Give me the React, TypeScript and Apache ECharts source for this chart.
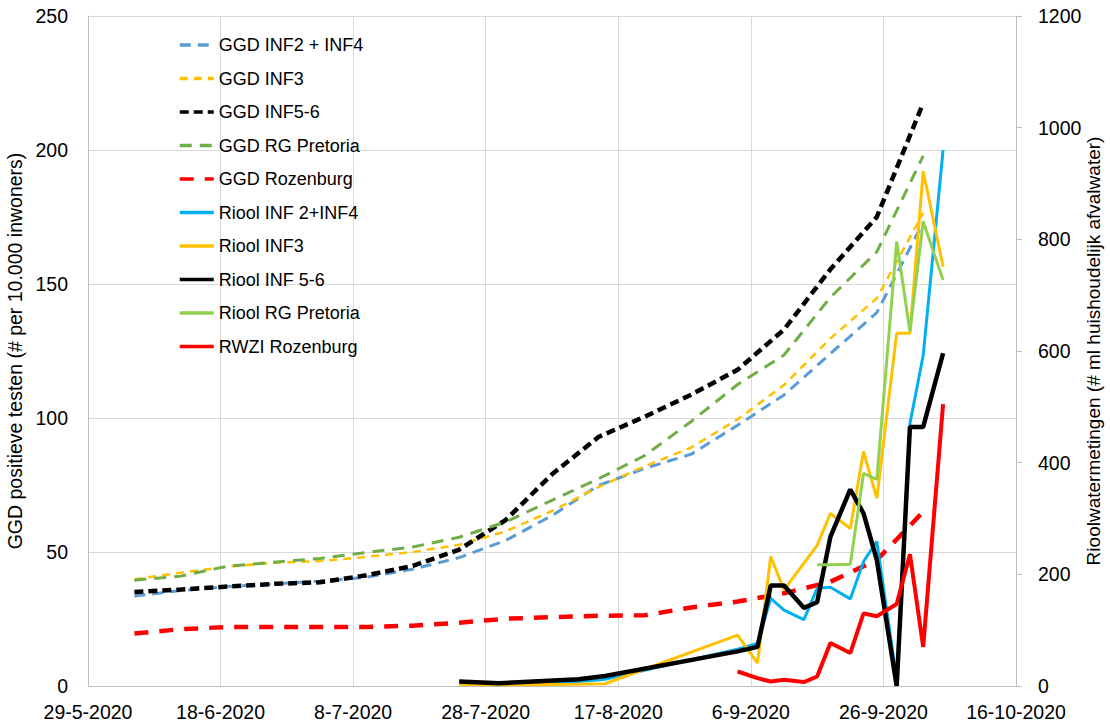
import React, { useEffect, useRef } from "react";
import * as echarts from "echarts";

// ---- data ----
const START = "2020-05-29";
const xTickDays = [0, 20, 40, 60, 80, 100, 120, 140];

const ggdDates = [
  "2020-06-05", "2020-06-12", "2020-06-19", "2020-06-26", "2020-07-03", "2020-07-10",
  "2020-07-17", "2020-07-24", "2020-07-31", "2020-08-07", "2020-08-14", "2020-08-21",
  "2020-08-28", "2020-09-04", "2020-09-11", "2020-09-18", "2020-09-25", "2020-10-02",
];
const ggdInf24 = [33.6, 35.6, 37.1, 38.1, 39.1, 40.6, 43.6, 47.9, 54.3, 63.6, 74.8, 81.2, 86.5, 97.3, 108.6, 124, 139.3, 173];
const ggdInf3 = [39.8, 42.3, 44.5, 46, 46.6, 48.2, 50, 52.7, 57.7, 65.3, 74.2, 82, 89, 99.5, 112.3, 129.7, 144.7, 176.5];
const ggdInf56 = [35.1, 36, 37.1, 38.1, 38.7, 41.3, 44.8, 50.9, 61.9, 79, 92.9, 100.5, 108.7, 118, 133, 155.5, 175, 217.5];
const ggdPretoria = [39.5, 41, 44.7, 46.2, 47.6, 49.8, 51.9, 55.5, 61.2, 69.3, 77.3, 86, 98.7, 112.5, 123.5, 145, 162, 197.8];
const ggdRozenburg = [19.6, 21.2, 22, 22, 22, 22, 22.5, 23.6, 25.1, 25.7, 26.2, 26.4, 29.3, 31.5, 34.6, 38.9, 47, 65];

const rioolDates = [
  "2020-07-24", "2020-07-30", "2020-08-11", "2020-08-15", "2020-09-04", "2020-09-07",
  "2020-09-09", "2020-09-11", "2020-09-14", "2020-09-16", "2020-09-18", "2020-09-21",
  "2020-09-23", "2020-09-25", "2020-09-28", "2020-09-30", "2020-10-02", "2020-10-05",
];
const rioolInf24 = [4, 2, 8, 12, 66, 76, 157, 136, 119, 175, 177, 156, 223, 259, 12, 470, 592, 960];
const rioolInf3 = [3, 2, 3, 4, 91, 41, 232, 172, null, 252, 309, 282, 420, 336, 632, 632, 922, 751];
const rioolInf56 = [8, 5, 12, 18, 62, 70, 180, 180, 140, 150, 267, 352, 309, 226, 0, 464, 464, 596];
const rioolPretoria = [null, null, null, null, null, null, null, null, null, 217, 217, 218, 381, 370, 796, 635, 832, 727];
const rwziRozenburg = [null, null, null, null, 26, 14, 8, 11, 7, 17, 77, 59, 130, 125, 147, 236, 70, 505];

const DAY = 86400000;
const toDay = (s: string) => Math.round((Date.parse(s) - Date.parse(START)) / DAY);
const dayLabel = (d: number) => {
  const t = new Date(Date.parse(START) + d * DAY);
  return `${t.getUTCDate()}-${t.getUTCMonth() + 1}-${t.getUTCFullYear()}`;
};
const pairs = (dates: string[], vals: (number | null)[]) =>
  dates.map((d, i) => [toDay(d), vals[i]]).filter((p) => p[1] !== null);

const FONT = "Liberation Sans";

export default function App() {
  const ref = useRef<HTMLDivElement>(null);
  useEffect(() => {
    if (!ref.current) return;
    const chart = echarts.init(ref.current, undefined, { renderer: "svg" });
    const dashed = (name: string, vals: number[], color: string, width: number, dash: number[]) => ({
      name,
      type: "line",
      yAxisIndex: 0,
      data: pairs(ggdDates, vals),
      symbol: "none",
      showSymbol: false,
      lineStyle: { color, width, type: dash },
      itemStyle: { color },
    });
    const solid = (name: string, dates: string[], vals: (number | null)[], color: string, width: number) => ({
      name,
      type: "line",
      yAxisIndex: 1,
      data: pairs(dates, vals),
      symbol: "none",
      showSymbol: false,
      lineStyle: { color, width, type: "solid" },
      itemStyle: { color },
    });
    chart.setOption({
      animation: false,
      backgroundColor: "#ffffff",
      textStyle: { fontFamily: FONT },
      grid: { left: 88, right: 94, top: 16, bottom: 40, containLabel: false, outerBoundsMode: "none" },
      legend: {
        orient: "vertical",
        left: 173,
        top: 31,
        itemWidth: 34,
        itemHeight: 14,
        itemGap: 15.5,
        itemStyle: { opacity: 0 },
        lineStyle: { width: 3.5 },
        textStyle: { fontSize: 18, color: "#000", fontFamily: FONT },
        data: [
          "GGD INF2 + INF4", "GGD INF3", "GGD INF5-6", "GGD RG Pretoria", "GGD Rozenburg",
          "Riool INF 2+INF4", "Riool INF3", "Riool INF 5-6", "Riool RG Pretoria", "RWZI Rozenburg",
        ],
      },
      xAxis: {
        type: "value",
        min: xTickDays[0],
        max: xTickDays[xTickDays.length - 1],
        interval: 20,
        axisLine: { show: true, lineStyle: { color: "#BFBFBF", width: 1 } },
        axisTick: { show: false },
        splitLine: { show: true, lineStyle: { color: "#D9D9D9", width: 1 } },
        axisLabel: { formatter: (v: number) => dayLabel(v), fontSize: 19.5, color: "#000", margin: 16, fontFamily: FONT },
      },
      yAxis: [
        {
          type: "value",
          min: 0,
          max: 250,
          interval: 50,
          name: "GGD positieve testen (# per 10.000 inwoners)",
          nameLocation: "middle",
          nameGap: 61,
          nameTextStyle: { fontSize: 19.5, color: "#000", fontFamily: FONT },
          axisLine: { show: true, lineStyle: { color: "#BFBFBF" } },
          axisTick: { show: false },
          splitLine: { show: true, lineStyle: { color: "#D9D9D9", width: 1 } },
          axisLabel: { fontSize: 19.5, color: "#000", margin: 20, fontFamily: FONT },
        },
        {
          type: "value",
          min: 0,
          max: 1200,
          interval: 200,
          position: "right",
          name: "Rioolwatermetingen (# ml huishoudelijk afvalwater)",
          nameLocation: "middle",
          nameGap: 68,
          nameMoveOverlap: false,
          nameRotate: 90,
          nameTextStyle: { fontSize: 19, color: "#000", fontFamily: FONT },
          axisLine: { show: true, lineStyle: { color: "#BFBFBF" } },
          axisTick: { show: true, length: 6, lineStyle: { color: "#BFBFBF" } },
          splitLine: { show: false },
          axisLabel: { fontSize: 19.5, color: "#000", margin: 22, fontFamily: FONT, formatter: (v: number) => String(v) },
        },
      ],
      series: [
        dashed("GGD INF2 + INF4", ggdInf24, "#5B9BD5", 3, [11, 7]),
        dashed("GGD INF3", ggdInf3, "#FFC000", 2.5, [8, 6]),
        dashed("GGD INF5-6", ggdInf56, "#000000", 4.5, [9, 5]),
        dashed("GGD RG Pretoria", ggdPretoria, "#70AD47", 3, [12, 8]),
        dashed("GGD Rozenburg", ggdRozenburg, "#FF0000", 4.5, [14, 11]),
        solid("Riool INF 2+INF4", rioolDates, rioolInf24, "#00B0F0", 3),
        solid("Riool INF3", rioolDates, rioolInf3, "#FFC000", 3),
        solid("Riool INF 5-6", rioolDates, rioolInf56, "#000000", 4.5),
        solid("Riool RG Pretoria", rioolDates, rioolPretoria, "#92D050", 3),
        solid("RWZI Rozenburg", rioolDates, rwziRozenburg, "#FF0000", 4),
      ],
    });
    return () => chart.dispose();
  }, []);
  return <div ref={ref} style={{ width: 1110, height: 726, position: "absolute", left: 0, top: 0 }} />;
}
